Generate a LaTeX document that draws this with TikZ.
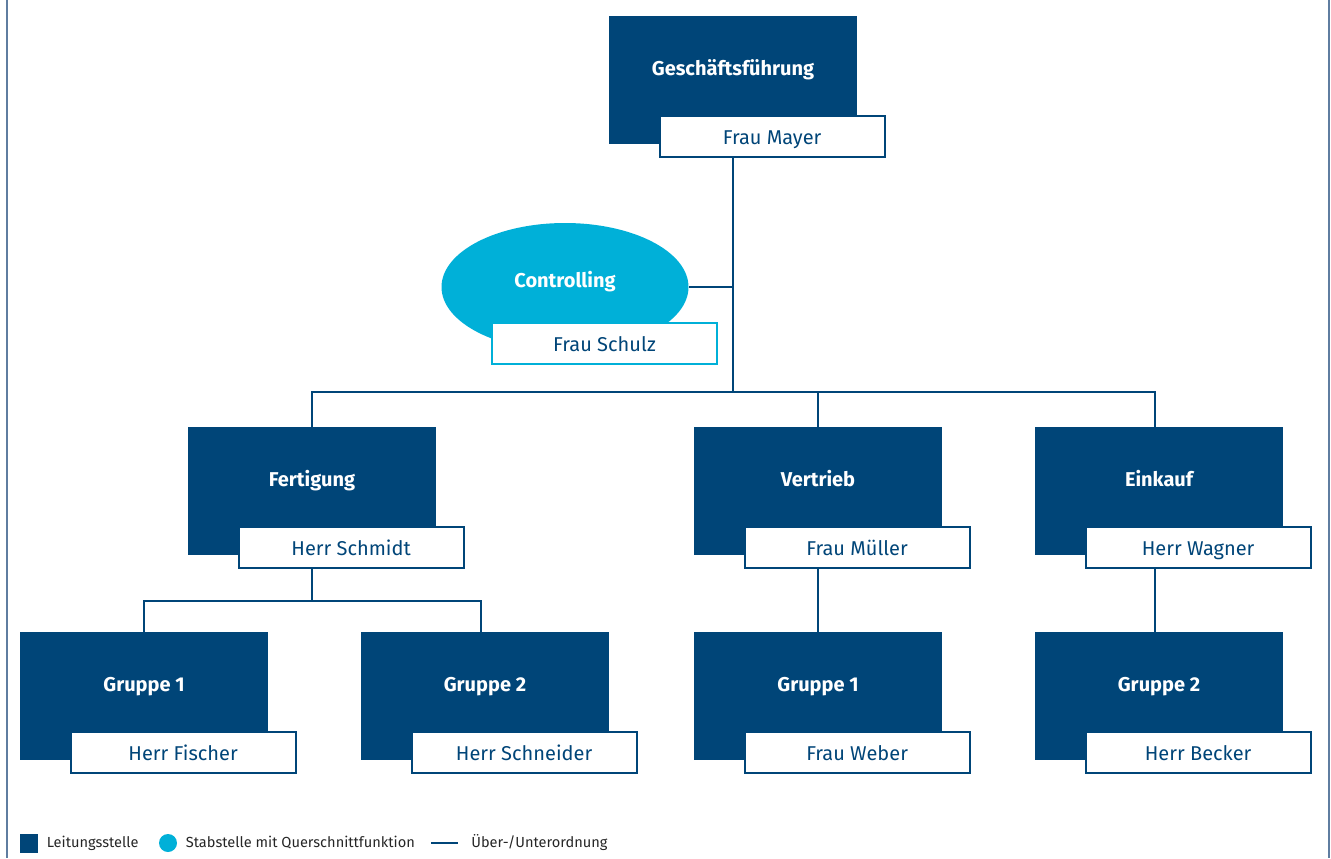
\documentclass[tikz,border=0pt]{standalone}
\usepackage{fontspec}
\setmainfont{Fira Sans}
\usetikzlibrary{positioning,shapes.geometric}

\definecolor{leitblau}{RGB}{0,69,120}
\definecolor{stabblau}{RGB}{0,176,216}
\definecolor{rahmen}{RGB}{95,125,160}

\tikzset{
  leit/.style={fill=leitblau,text=white,font=\fontsize{10}{12}\selectfont\bfseries,
    minimum width=124pt,minimum height=64pt,inner sep=0pt,text height=7pt,text depth=12pt},
  stab/.style={ellipse,fill=stabblau,text=white,font=\fontsize{10}{12}\selectfont\bfseries,
    minimum width=123.5pt,minimum height=64pt,inner sep=0pt,text height=7pt,text depth=7pt},
  person/.style={draw=leitblau,line width=1pt,fill=white,text=leitblau,
    font=\fontsize{10}{12}\selectfont,minimum width=112.5pt,minimum height=20.5pt,
    inner sep=0pt,text height=8pt,text depth=0pt,anchor=north west},
  linie/.style={draw=leitblau,line width=1pt},
  legtext/.style={anchor=west,inner sep=0pt,text=black!85,font=\fontsize{7.3}{9}\selectfont}
}

\begin{document}
\begin{tikzpicture}[x=0.5pt,y=-0.5pt]
\useasboundingbox (0,0) rectangle (1331,858);
\draw[rahmen,line width=0.75pt] (7,0) -- (7,858);
\draw[rahmen,line width=0.75pt] (1329,0) -- (1329,858);

\node(gf)[leit] at (733,80) {Geschäftsführung};
\node(mayer)[person] at ([shift={(50,-29)}]gf.south west) {Frau Mayer};

\node(ctrl)[stab] at (565,287) {Controlling};
\node(schulz)[person,draw=stabblau] at ([shift={(-74,35)}]ctrl.center) {Frau Schulz};

\node(fert)[leit] at (312,491) {Fertigung};
\node(schmidt)[person] at ([shift={(50,-29)}]fert.south west) {Herr Schmidt};

\node(vert)[leit] at (818,491) {Vertrieb};
\node(mueller)[person] at ([shift={(50,-29)}]vert.south west) {Frau Müller};

\node(eink)[leit] at (1159,491) {Einkauf};
\node(wagner)[person] at ([shift={(50,-29)}]eink.south west) {Herr Wagner};

\node(fg1)[leit] at (144,696) {Gruppe 1};
\node(fischer)[person] at ([shift={(50,-29)}]fg1.south west) {Herr Fischer};

\node(fg2)[leit] at (485,696) {Gruppe 2};
\node(schneider)[person] at ([shift={(50,-29)}]fg2.south west) {Herr Schneider};

\node(vg1)[leit] at (818,696) {Gruppe 1};
\node(weber)[person] at ([shift={(50,-29)}]vg1.south west) {Frau Weber};

\node(eg2)[leit] at (1159,696) {Gruppe 2};
\node(becker)[person] at ([shift={(50,-29)}]eg2.south west) {Herr Becker};

\coordinate(bus) at (733,392);
\coordinate(fbus) at (312,601);

\draw [linie] (gf |- mayer.south) -- (gf |- bus);
\draw [linie] (ctrl.east) -- (ctrl.east -| gf);
\draw [linie] (fert.north) -- (fert |- bus) -- ([xshift=-2pt]eink.north |- bus) -- ([xshift=-2pt]eink.north);
\draw [linie] (vert.north) -- (vert |- bus);
\draw [linie] (fert |- schmidt.south) -- (fbus);
\draw [linie] (fg1.north) -- (fg1 |- fbus) -- ([xshift=-2pt]fg2.north |- fbus) -- ([xshift=-2pt]fg2.north);
\draw [linie] (vert |- mueller.south) -- (vg1.north);
\draw [linie] ([xshift=-2pt]eink.north |- wagner.south) -- ([xshift=-2pt]eg2.north);

% Legende
\node(legleit)[fill=leitblau,minimum width=9pt,minimum height=9.5pt,inner sep=0pt] at (29,843) {};
\node(legleittext)[legtext,right=4pt of legleit] {Leitungsstelle};
\node(legstab)[circle,fill=stabblau,minimum size=9pt,inner sep=0pt] at (168,843) {};
\node(legstabtext)[legtext,right=4pt of legstab] {Stabstelle mit Querschnittfunktion};
\coordinate(linanf) at (431,843);
\coordinate(linend) at (458,843);
\draw [linie] (linanf) -- (linend);
\node(leglintext)[legtext,right=6.5pt of linend] {Über-/Unterordnung};
\end{tikzpicture}
\end{document}
